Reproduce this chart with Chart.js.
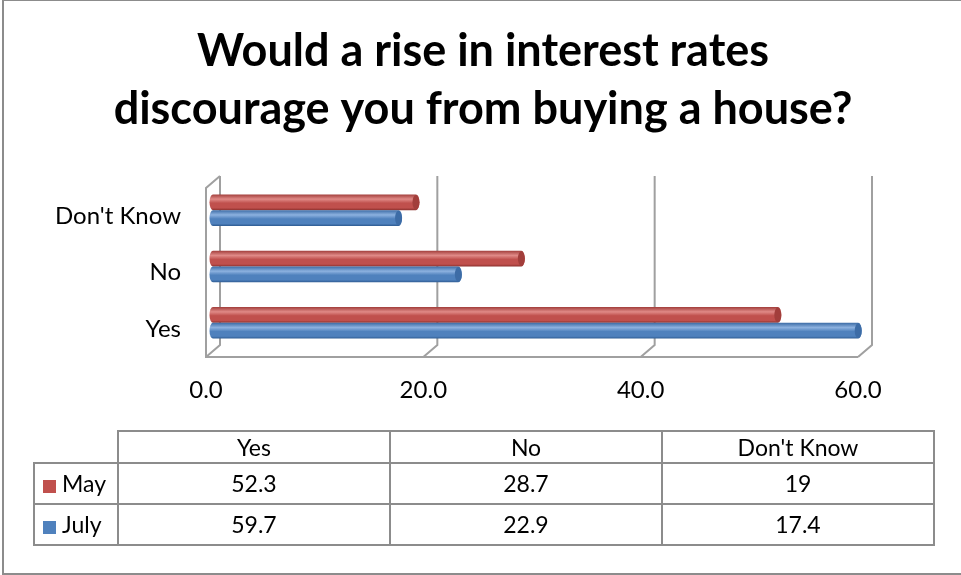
<!DOCTYPE html>
<html>
<head>
<meta charset="utf-8">
<title>Interest rates survey</title>
<script src="https://cdn.jsdelivr.net/npm/chart.js@4.4.1/dist/chart.umd.min.js"></script>
<style>
  body { margin: 0; background: #fff; }
  #wrap { position: relative; width: 961px; height: 575px; overflow: hidden; font-family: Lato, sans-serif; }
  #frame { position: absolute; left: 2px; top: -1px; width: 970px; height: 576px; border: 2px solid #8c8c8c; box-sizing: border-box; }
  #chart { position: absolute; left: 0; top: 0; }
  #tbl { position: absolute; left: 33px; top: 430px; border-collapse: collapse; table-layout: fixed; font-size: 23px; color: #000; }
  #tbl td { border: 2px solid #8c8c8c; text-align: center; padding: 0; line-height: 1; }
  #tbl td.blank { border-top: none; border-left: none; }
  #tbl td.series { text-align: left; padding-left: 8px; white-space: nowrap; }
  #tbl .swatch { display: inline-block; width: 13px; height: 13px; margin-right: 6px; vertical-align: -1px; }
</style>
</head>
<body>
<div id="wrap">
  <div id="frame"></div>
  <canvas id="chart" width="961" height="575"></canvas>
  <table id="tbl"></table>
</div>
<script>
// survey answers, % of respondents
var categories = ['Yes', 'No', "Don't Know"];
var seriesNames = ['May', 'July'];
var mayValues = [52.3, 28.7, 19];
var julyValues = [59.7, 22.9, 17.4];
var xTicks = [0, 20, 40, 60];

var seriesColors = ['#c0504d', '#4f81bd'];
var shades = [
    {light: '#e08a87', dark: '#8c302d', cap: '#a23e3b'},
    {light: '#8cb1df', dark: '#2e5b92', cap: '#3d6ca6'}
];

// fake 3d depth of the plot box
var DX = 7, DY = 6;

var walls = {
    id: 'walls',
    beforeDatasetsDraw: function(chart){
        var ctx = chart.ctx, x = chart.scales.x, a = chart.chartArea;
        var top = a.top, bottom = a.bottom;
        ctx.save();
        ctx.strokeStyle = '#a0a0a0';
        ctx.lineWidth = 2;
        ctx.beginPath();
        xTicks.forEach(function(v){
            var px = x.getPixelForValue(v);
            ctx.moveTo(px + DX, top - DY);
            ctx.lineTo(px + DX, bottom - DY);
            ctx.lineTo(px - DX, bottom + DY);
        });
        var x0 = x.getPixelForValue(xTicks[0]);
        var x1 = x.getPixelForValue(xTicks[xTicks.length - 1]);
        ctx.moveTo(x1 - DX, bottom + DY);
        ctx.lineTo(x0 - DX, bottom + DY);
        ctx.lineTo(x0 - DX, top + DY);
        ctx.lineTo(x0 + DX, top - DY);
        ctx.stroke();
        ctx.restore();
    }
};

var tubes = {
    id: 'tubes',
    afterDatasetsDraw: function(chart){
        var ctx = chart.ctx;
        chart.data.datasets.forEach(function(ds, i){
            var meta = chart.getDatasetMeta(i);
            var sh = shades[i];
            meta.data.forEach(function(bar){
                var p = bar.getProps(['x', 'y', 'base', 'height'], true);
                var h = p.height, t = p.y - h / 2, r = 3.5;
                var end = p.x - r;
                var g = ctx.createLinearGradient(0, t, 0, t + h);
                g.addColorStop(0, sh.cap);
                g.addColorStop(0.3, sh.light);
                g.addColorStop(0.55, seriesColors[i]);
                g.addColorStop(0.85, seriesColors[i]);
                g.addColorStop(1, sh.dark);
                ctx.save();
                ctx.fillStyle = g;
                ctx.beginPath();
                ctx.ellipse(p.base, p.y, r, h / 2, 0, Math.PI / 2, Math.PI * 1.5);
                ctx.lineTo(end, t);
                ctx.ellipse(end, p.y, r, h / 2, 0, -Math.PI / 2, Math.PI / 2);
                ctx.closePath();
                ctx.fill();
                ctx.fillStyle = sh.cap;
                ctx.beginPath();
                ctx.ellipse(end, p.y, r, h / 2 - 0.5, 0, 0, Math.PI * 2);
                ctx.fill();
                ctx.restore();
            });
        });
    }
};

var ctxP = document.getElementById('chart').getContext('2d');
var surveyChart = new Chart(ctxP, {
    type: 'bar',
    data: {
        labels: categories,
        datasets: [
            {label: seriesNames[0], data: mayValues, backgroundColor: 'rgba(0,0,0,0)'},
            {label: seriesNames[1], data: julyValues, backgroundColor: 'rgba(0,0,0,0)'}
        ]
    },
    options: {
        responsive: false,
        animation: false,
        indexAxis: 'y',
        categoryPercentage: 0.56,
        barPercentage: 1,
        layout: {padding: {left: 13, top: 22, right: 8, bottom: 164}},
        plugins: {
            legend: {display: false},
            tooltip: {enabled: false},
            title: {
                display: true,
                text: ['Would a rise in interest rates', 'discourage you from buying a house?'],
                color: '#000',
                font: {family: 'Lato', size: 45, weight: 'bold', lineHeight: 1.3},
                padding: {top: 0, bottom: 43}
            }
        },
        scales: {
            x: {
                min: 0, max: 60,
                afterBuildTicks: function(s){ s.ticks = xTicks.map(function(v){ return {value: v}; }); },
                afterFit: function(s){ s.height = 60; },
                grid: {display: false, drawTicks: false},
                border: {display: false},
                ticks: {
                    color: '#000',
                    font: {family: 'Lato', size: 24},
                    padding: 25,
                    labelOffset: -7,
                    maxRotation: 0,
                    callback: function(v){ return Number(v).toFixed(1); }
                }
            },
            y: {
                reverse: true,
                afterFit: function(s){ s.width = 200; },
                grid: {display: false, drawTicks: false},
                border: {display: false},
                ticks: {color: '#000', font: {family: 'Lato', size: 24}, padding: 32, labelOffset: 6}
            },
            // empty strip on the right so the plot box ends at 60 where the back wall does
            gutter: {
                axis: 'y',
                position: 'right',
                afterFit: function(s){ s.width = 88; },
                grid: {display: false, drawTicks: false},
                border: {display: false},
                ticks: {display: false}
            }
        }
    },
    plugins: [walls, tubes]
});

// data table under the chart
var tbl = document.getElementById('tbl');
var widths = [84, 272, 272, 272];
var html = '<colgroup>' + widths.map(function(w){ return '<col style="width:' + w + 'px">'; }).join('') + '</colgroup>';
html += '<tr style="height:32px"><td class="blank"></td>' + categories.map(function(c){ return '<td>' + c + '</td>'; }).join('') + '</tr>';
[mayValues, julyValues].forEach(function(vals, i){
    html += '<tr style="height:41px"><td class="series"><span class="swatch" style="background:' + seriesColors[i] + '"></span>' + seriesNames[i] + '</td>' +
        vals.map(function(v){ return '<td>' + v + '</td>'; }).join('') + '</tr>';
});
tbl.innerHTML = html;
</script>
</body>
</html>
